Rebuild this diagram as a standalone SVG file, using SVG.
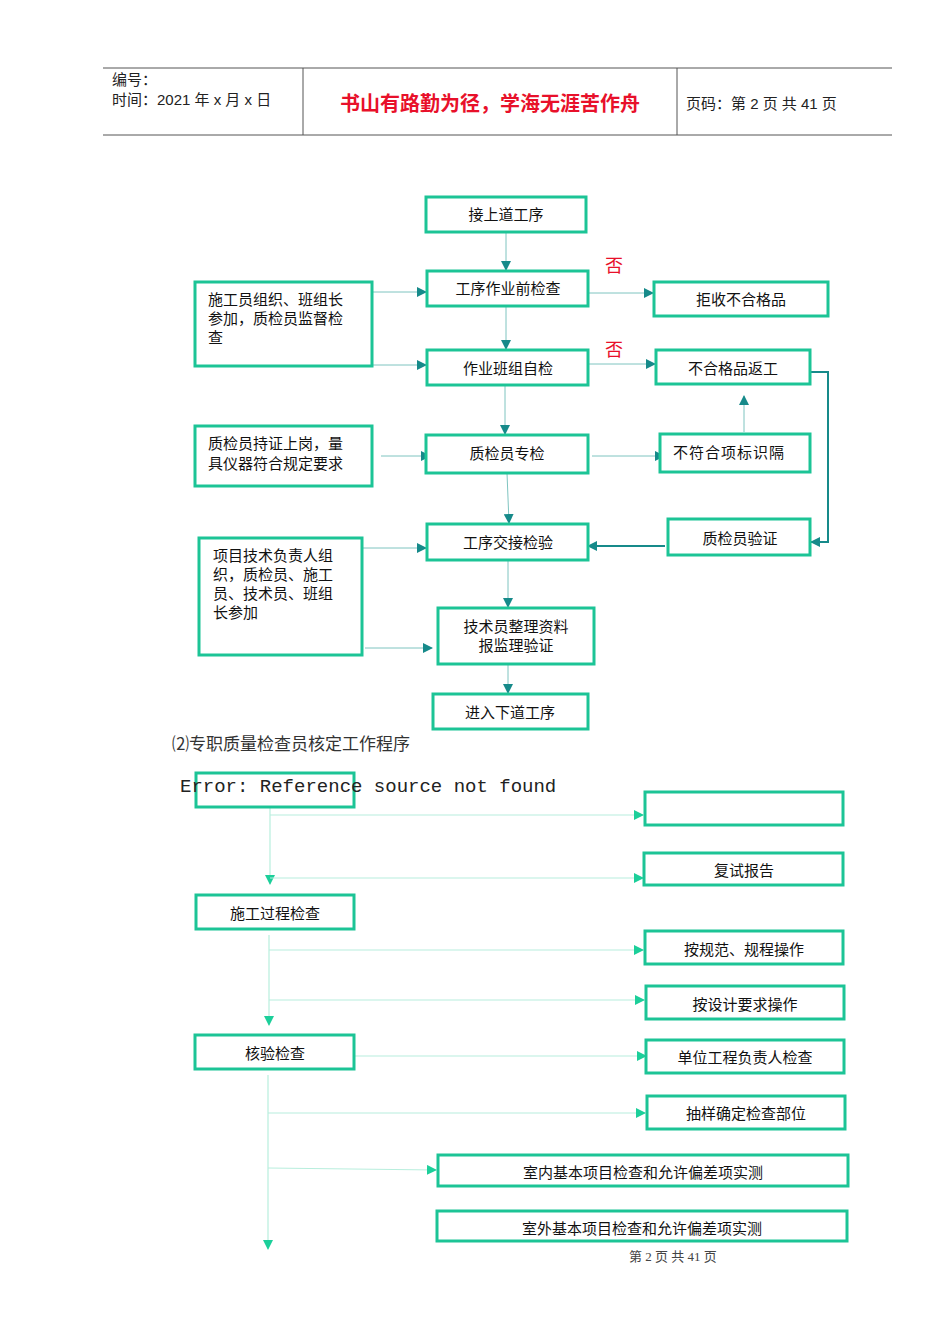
<svg xmlns="http://www.w3.org/2000/svg" width="950" height="1344" viewBox="0 0 950 1344">
<style>
.b{fill:#fff;stroke:#1cc496;stroke-width:3}
.t{font-family:"Liberation Sans","Noto Sans CJK SC",sans-serif;font-size:15px;fill:#111}
.c{text-anchor:middle}
.l{stroke:#7fc4c0;stroke-width:1;fill:none}
.l2{stroke:#b8eedd;stroke-width:1.2;fill:none}
.h{font-family:"Liberation Sans","Noto Sans CJK SC",sans-serif;font-size:15px;fill:#222}
</style>
<defs>
<marker id="a" markerWidth="10" markerHeight="10" refX="9" refY="5" orient="auto" markerUnits="userSpaceOnUse"><path d="M0,0L10,5L0,10z" fill="#168a8a"/></marker>
<marker id="g" markerWidth="10" markerHeight="10" refX="9" refY="5" orient="auto" markerUnits="userSpaceOnUse"><path d="M0,0L10,5L0,10z" fill="#1ccf9a"/></marker>
</defs>
<g id="header">
<line x1="103" y1="68" x2="892" y2="68" stroke="#555"/>
<line x1="103" y1="135" x2="892" y2="135" stroke="#555"/>
<line x1="303" y1="68" x2="303" y2="135" stroke="#555"/>
<line x1="677" y1="68" x2="677" y2="135" stroke="#555"/>
<text class="h" x="112" y="85">编号：</text>
<text class="h" x="112" y="105">时间：2021 年 x 月 x 日</text>
<text x="490" y="111" text-anchor="middle" font-family="Liberation Sans,Noto Sans CJK SC,sans-serif" font-size="20" font-weight="bold" fill="#e8102a">书山有路勤为径，学海无涯苦作舟</text>
<text class="h" x="686" y="109">页码：第 2 页  共 41 页</text>
</g>
<g id="connectors">
<path class="l" d="M506,232V270" marker-end="url(#a)"/>
<path class="l" d="M506,306V349" marker-end="url(#a)"/>
<path class="l" d="M505,385V434" marker-end="url(#a)"/>
<path class="l" d="M507,473L509,523" marker-end="url(#a)"/>
<path class="l" d="M508,560V607" marker-end="url(#a)"/>
<path class="l" d="M508,664V693" marker-end="url(#a)"/>
<path class="l" d="M588,293H653" marker-end="url(#a)"/>
<path class="l" d="M588,364H655" marker-end="url(#a)"/>
<path class="l" d="M592,456H664" marker-end="url(#a)"/>
<path class="l" d="M744,432V396" marker-end="url(#a)"/>
<path d="M810,372H828V542H811" stroke="#168a8a" stroke-width="2" fill="none" marker-end="url(#a)"/>
<path d="M665,546H588" stroke="#168a8a" stroke-width="2" fill="none" marker-end="url(#a)"/>
<path class="l" d="M372,292H426" marker-end="url(#a)"/>
<path class="l" d="M372,365H426" marker-end="url(#a)"/>
<path class="l" d="M381,456H430" marker-end="url(#a)"/>
<path class="l" d="M362,548H426" marker-end="url(#a)"/>
<path class="l" d="M365,648H432" marker-end="url(#a)"/>
<path class="l2" d="M270,807V884" marker-end="url(#g)"/>
<path class="l2" d="M270,815H643" marker-end="url(#g)"/>
<path class="l2" d="M270,878H643" marker-end="url(#g)"/>
<path class="l2" d="M269,935V1025" marker-end="url(#g)"/>
<path class="l2" d="M269,950H643" marker-end="url(#g)"/>
<path class="l2" d="M269,1000H644" marker-end="url(#g)"/>
<path class="l2" d="M354,1056H646" marker-end="url(#g)"/>
<path class="l2" d="M268,1075V1249" marker-end="url(#g)"/>
<path class="l2" d="M268,1113H645" marker-end="url(#g)"/>
<path class="l2" d="M268,1168L436,1170" marker-end="url(#g)"/>
</g>
<g id="n1"><rect class="b" x="426" y="197" width="160" height="35"/><text class="t c" x="506" y="220">接上道工序</text></g>
<g id="n2"><rect class="b" x="427" y="271" width="161" height="35"/><text class="t c" x="508" y="294">工序作业前检查</text></g>
<g id="no1"><text x="614" y="272" text-anchor="middle" font-family="Liberation Sans,Noto Sans CJK SC,sans-serif" font-size="18" fill="#e8102a">否</text></g>
<g id="no2"><text x="614" y="356" text-anchor="middle" font-family="Liberation Sans,Noto Sans CJK SC,sans-serif" font-size="18" fill="#e8102a">否</text></g>
<g id="n3"><rect class="b" x="654" y="282" width="174" height="34"/><text class="t c" x="741" y="305">拒收不合格品</text></g>
<g id="n4"><rect class="b" x="195" y="282" width="177" height="84"/><text class="t" x="208" y="305">施工员组织、班组长</text><text class="t" x="208" y="324">参加，质检员监督检</text><text class="t" x="208" y="343">查</text></g>
<g id="n5"><rect class="b" x="427" y="350" width="161" height="35"/><text class="t c" x="508" y="374">作业班组自检</text></g>
<g id="n6"><rect class="b" x="656" y="350" width="154" height="34"/><text class="t c" x="733" y="374">不合格品返工</text></g>
<g id="n7"><rect class="b" x="195" y="426" width="177" height="60"/><text class="t" x="208" y="449">质检员持证上岗，量</text><text class="t" x="208" y="469">具仪器符合规定要求</text></g>
<g id="n8"><rect class="b" x="426" y="435" width="162" height="38"/><text class="t c" x="507" y="459">质检员专检</text></g>
<g id="n9"><rect class="b" x="660" y="434" width="150" height="38"/><text class="t" x="673" y="458" letter-spacing="1">不符合项标识隔</text></g>
<g id="n10"><rect class="b" x="427" y="524" width="161" height="36"/><text class="t c" x="508" y="548">工序交接检验</text></g>
<g id="n11"><rect class="b" x="668" y="519" width="142" height="36"/><text class="t c" x="740" y="544">质检员验证</text></g>
<g id="n12"><rect class="b" x="199" y="538" width="163" height="117"/><text class="t" x="213" y="561">项目技术负责人组</text><text class="t" x="213" y="580">织，质检员、施工</text><text class="t" x="213" y="599">员、技术员、班组</text><text class="t" x="213" y="618">长参加</text></g>
<g id="n13"><rect class="b" x="438" y="608" width="156" height="56"/><text class="t c" x="516" y="632">技术员整理资料</text><text class="t c" x="516" y="651">报监理验证</text></g>
<g id="n14"><rect class="b" x="433" y="694" width="155" height="35"/><text class="t c" x="510" y="718">进入下道工序</text></g>
<g id="caption"><text x="172" y="750" font-family="Liberation Serif,Noto Sans CJK SC,serif" font-size="17" fill="#333">⑵专职质量检查员核定工作程序</text></g>
<g id="m1"><rect class="b" x="196" y="773" width="158" height="34"/></g>
<g id="err"><text x="180" y="792" font-family="Liberation Mono,monospace" font-size="19" fill="#222">Error: Reference source not found</text></g>
<g id="m2"><rect class="b" x="645" y="792" width="198" height="33"/></g>
<g id="m3"><rect class="b" x="644" y="853" width="199" height="32"/><text class="t c" x="744" y="876">复试报告</text></g>
<g id="m4"><rect class="b" x="196" y="895" width="158" height="34"/><text class="t c" x="275" y="919">施工过程检查</text></g>
<g id="m5"><rect class="b" x="645" y="931" width="198" height="33"/><text class="t c" x="744" y="955">按规范、规程操作</text></g>
<g id="m6"><rect class="b" x="646" y="986" width="198" height="33"/><text class="t c" x="745" y="1010">按设计要求操作</text></g>
<g id="m7"><rect class="b" x="195" y="1035" width="159" height="34"/><text class="t c" x="275" y="1059">核验检查</text></g>
<g id="m8"><rect class="b" x="646" y="1040" width="198" height="33"/><text class="t c" x="745" y="1063">单位工程负责人检查</text></g>
<g id="m9"><rect class="b" x="647" y="1096" width="198" height="33"/><text class="t c" x="746" y="1119">抽样确定检查部位</text></g>
<g id="m10"><rect class="b" x="438" y="1155" width="410" height="31"/><text class="t c" x="643" y="1178" font-size="14">室内基本项目检查和允许偏差项实测</text></g>
<g id="m11"><rect class="b" x="437" y="1211" width="410" height="30"/><text class="t c" x="642" y="1234" font-size="14">室外基本项目检查和允许偏差项实测</text></g>
<g id="footer"><text x="673" y="1261" text-anchor="middle" font-family="Liberation Serif,Noto Sans CJK SC,serif" font-size="13" fill="#444">第 2 页 共 41 页</text></g>
</svg>
